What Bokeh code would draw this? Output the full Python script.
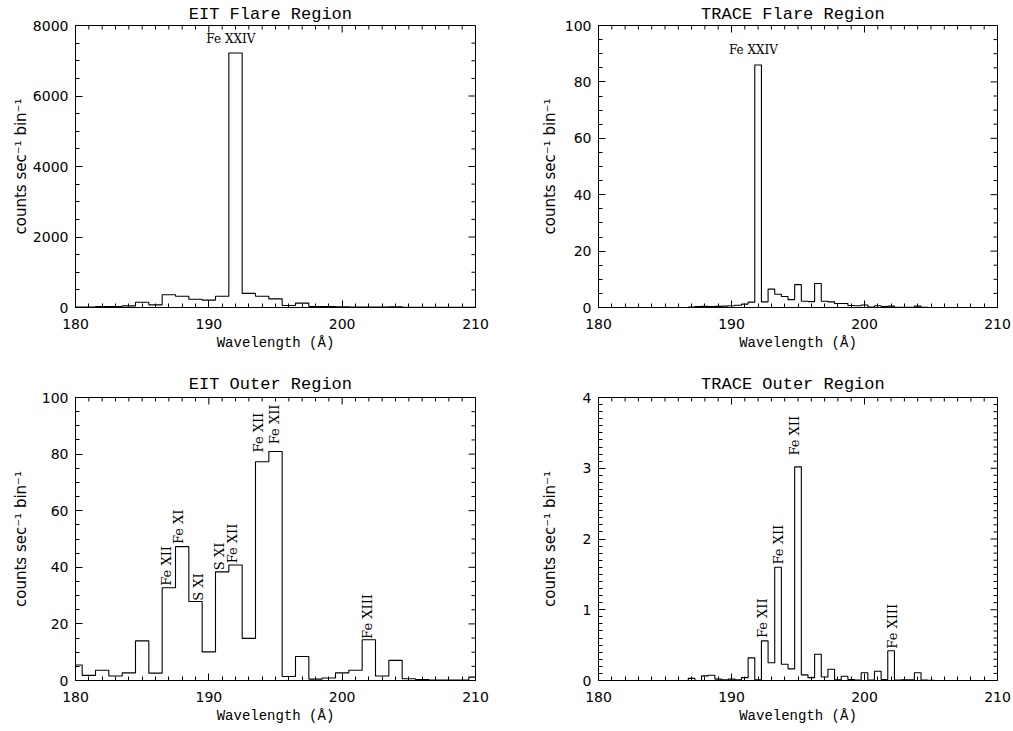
import numpy as np
from bokeh.plotting import figure
from bokeh.models import FixedTicker, Range1d
from bokeh.layouts import column, row
from bokeh.embed import file_html
from bokeh.resources import INLINE
from bokeh.core.properties import value

# ---------------- data ----------------
eit_wavelength = [180, 181, 182, 183, 184, 185, 186, 187, 188, 189, 190,
                  191, 192, 193, 194, 195, 196, 197, 198, 199, 200,
                  201, 202, 203, 204, 205, 206, 207, 208, 209, 210]
eit_flare_counts = [10, 10, 30, 30, 45, 150, 75, 360, 320, 235, 210,
                    320, 7220, 400, 320, 245, 55, 125, 30, 25, 20,
                    15, 10, 10, 20, 5, 5, 5, 5, 5, 5]
eit_outer_counts = [5.5, 1.8, 3.6, 1.6, 2.7, 14.0, 2.6, 32.8, 47.3, 27.9, 10.1,
                    38.4, 40.8, 14.9, 77.3, 80.9, 1.4, 8.5, 0.5, 0.9, 2.7,
                    3.6, 14.4, 1.6, 7.1, 0.6, 0.35, 0.2, 0.2, 0.2, 1.2]

trace_wavelength = [180.0, 180.5, 181.0, 181.5, 182.0, 182.5, 183.0, 183.5, 184.0, 184.5,
                    185.0, 185.5, 186.0, 186.5, 187.0, 187.5, 188.0, 188.5, 189.0, 189.5,
                    190.0, 190.5, 191.0, 191.5, 192.0, 192.5, 193.0, 193.5, 194.0, 194.5,
                    195.0, 195.5, 196.0, 196.5, 197.0, 197.5, 198.0, 198.5, 199.0, 199.5,
                    200.0, 200.5, 201.0, 201.5, 202.0, 202.5, 203.0, 203.5, 204.0, 204.5,
                    205.0, 205.5, 206.0, 206.5, 207.0, 207.5, 208.0, 208.5, 209.0, 209.5,
                    210.0]
trace_flare_counts = [0, 0, 0, 0, 0, 0, 0, 0, 0, 0,
                      0, 0, 0, 0, 0.2, 0.3, 0.4, 0.3, 0.4, 0.5,
                      0.6, 0.8, 1.2, 1.9, 86.0, 2.0, 6.5, 4.7, 3.9, 2.8,
                      8.1, 2.2, 2.1, 8.5, 2.2, 2.0, 1.4, 1.4, 0.7, 0.6,
                      0.9, 0.2, 0.6, 0.35, 0.5, 0.1, 0.1, 0.1, 0.5, 0.1,
                      0, 0, 0, 0, 0, 0, 0, 0, 0, 0,
                      0]
trace_outer_counts = [0, 0, 0, 0, 0, 0, 0, 0, 0, 0,
                      0, 0, 0, 0, 0.03, 0.0, 0.065, 0.075, 0.02, 0.01,
                      0.02, 0.01, 0.04, 0.32, 0.01, 0.56, 0.25, 1.60, 0.23, 0.165,
                      3.02, 0.08, 0.04, 0.37, 0.05, 0.16, 0.01, 0.06, 0.015, 0.005,
                      0.11, 0.005, 0.13, 0.015, 0.42, 0.005, 0.01, 0.01, 0.11, 0.005,
                      0.003, 0, 0, 0, 0, 0, 0, 0, 0, 0,
                      0]

x_major_ticks = [180, 190, 200, 210]
x_minor_ticks = [181, 182, 183, 184, 185, 186, 187, 188, 189,
                 191, 192, 193, 194, 195, 196, 197, 198, 199,
                 201, 202, 203, 204, 205, 206, 207, 208, 209]

eit_flare_label_text = ["Fe XXIV"]
eit_flare_label_x = [191.65]
eit_flare_label_y = [7430]

trace_flare_label_text = ["Fe XXIV"]
trace_flare_label_x = [191.65]
trace_flare_label_y = [89]

eit_outer_label_text = ["Fe XII", "Fe XI", "S XI", "S XI", "Fe XII", "Fe XII", "Fe XII", "Fe XIII"]
eit_outer_label_x = [186.8, 187.7, 189.2, 190.8, 191.8, 193.7, 194.9, 201.9]
eit_outer_label_y = [33.5, 48.2, 28.2, 39.0, 41.4, 80.6, 83.5, 14.7]

trace_outer_label_text = ["Fe XII", "Fe XII", "Fe XII", "Fe XIII"]
trace_outer_label_x = [192.3, 193.56, 194.7, 202.08]
trace_outer_label_y = [0.60, 1.64, 3.18, 0.45]

# ---------------- styling ----------------
TITLE_FONT = "Liberation Mono"
XLABEL_FONT = "Liberation Mono"
TICK_FONT = "DejaVu Sans"
ANNOT_FONT = "DejaVu Serif"
MAJ_LEN = 7
MIN_LEN = 4
X0, X1 = 180, 210


def style_axis(ax):
    ax.major_tick_in = MAJ_LEN
    ax.major_tick_out = 0
    ax.minor_tick_in = MIN_LEN
    ax.minor_tick_out = 0
    ax.axis_line_color = "black"
    ax.major_tick_line_color = "black"
    ax.minor_tick_line_color = "black"
    ax.major_label_text_font = TICK_FONT
    ax.major_label_text_font_size = "14px"
    ax.major_label_text_color = "black"


def make_panel(title, xs, ys, ymax, y_major, y_minor, lab_text, lab_x, lab_y,
               rotated, width, height, borders, ylabel_standoff, title_standoff):
    left, right, top, bottom = borders
    frame_w = width - left - right
    frame_h = height - top - bottom
    p = figure(width=width, height=height, output_backend="svg", toolbar_location=None,
               x_range=Range1d(X0, X1), y_range=Range1d(0, ymax),
               min_border_left=left, min_border_right=right,
               min_border_top=top, min_border_bottom=bottom)
    p.title.text = title
    p.title.align = "center"
    p.title.text_font = TITLE_FONT
    p.title.text_font_size = "17px"
    p.title.text_font_style = "normal"
    p.title.text_color = "black"
    p.title.standoff = title_standoff
    p.xgrid.visible = False
    p.ygrid.visible = False
    p.outline_line_color = "black"
    p.outline_line_width = 1
    p.background_fill_color = "white"
    p.border_fill_color = "white"

    p.xaxis.ticker = FixedTicker(ticks=x_major_ticks, minor_ticks=x_minor_ticks)
    p.yaxis.ticker = FixedTicker(ticks=y_major, minor_ticks=y_minor)
    for ax in p.xaxis:
        style_axis(ax)
        ax.major_label_standoff = 11
        ax.axis_label = "Wavelength (Å)"
        ax.axis_label_text_font = XLABEL_FONT
        ax.axis_label_text_font_size = "14px"
        ax.axis_label_text_font_style = "normal"
        ax.axis_label_text_color = "black"
        ax.axis_label_standoff = 3
    for ax in p.yaxis:
        style_axis(ax)
        ax.major_label_standoff = 7
        ax.axis_label = "counts sec⁻¹ bin⁻¹"
        ax.axis_label_text_font = TICK_FONT
        ax.axis_label_text_font_size = "15px"
        ax.axis_label_text_font_style = "normal"
        ax.axis_label_text_color = "black"
        ax.axis_label_standoff = ylabel_standoff

    # inward ticks on the top and right edges of the box (IDL style)
    dy_maj = MAJ_LEN * ymax / frame_h
    dy_min = MIN_LEN * ymax / frame_h
    dx_maj = MAJ_LEN * (X1 - X0) / frame_w
    dx_min = MIN_LEN * (X1 - X0) / frame_w
    p.segment(x0=x_major_ticks, y0=[ymax] * len(x_major_ticks),
              x1=x_major_ticks, y1=[ymax - dy_maj] * len(x_major_ticks),
              line_color="black", line_width=1)
    p.segment(x0=x_minor_ticks, y0=[ymax] * len(x_minor_ticks),
              x1=x_minor_ticks, y1=[ymax - dy_min] * len(x_minor_ticks),
              line_color="black", line_width=1)
    p.segment(x0=[X1] * len(y_major), y0=y_major,
              x1=[X1 - dx_maj] * len(y_major), y1=y_major,
              line_color="black", line_width=1)
    p.segment(x0=[X1] * len(y_minor), y0=y_minor,
              x1=[X1 - dx_min] * len(y_minor), y1=y_minor,
              line_color="black", line_width=1)

    p.step(xs, ys, mode="center", line_color="black", line_width=1.1)

    if rotated:
        p.text(x=lab_x, y=lab_y, text=lab_text, angle=np.pi / 2,
               text_align="left", text_baseline="middle",
               text_font=value(ANNOT_FONT), text_font_size="13px", text_color="black")
    else:
        p.text(x=lab_x, y=lab_y, text=lab_text,
               text_align="center", text_baseline="bottom",
               text_font=value(ANNOT_FONT), text_font_size="12px", text_color="black")
    return p


eit_flare_major = [0, 2000, 4000, 6000, 8000]
eit_flare_minor = [v for v in range(0, 8001, 500) if v % 2000]
pct_major = [0, 20, 40, 60, 80, 100]
pct_minor = [v for v in range(0, 101, 5) if v % 20]
trace_outer_major = [0, 1, 2, 3, 4]
trace_outer_minor = [k / 10 for k in range(0, 41) if k % 10]

p1 = make_panel("EIT  Flare Region", eit_wavelength, eit_flare_counts, 8000,
                eit_flare_major, eit_flare_minor,
                eit_flare_label_text, eit_flare_label_x, eit_flare_label_y, False,
                523, 356, (75, 48, 25, 49), 0, 4)
p2 = make_panel("TRACE  Flare Region", trace_wavelength, trace_flare_counts, 100,
                pct_major, pct_minor,
                trace_flare_label_text, trace_flare_label_x, trace_flare_label_y, False,
                490, 356, (75, 16, 25, 49), 3, 4)
p3 = make_panel("EIT  Outer Region", eit_wavelength, eit_outer_counts, 100,
                pct_major, pct_minor,
                eit_outer_label_text, eit_outer_label_x, eit_outer_label_y, True,
                523, 375, (75, 48, 41, 51), 9, 7)
p4 = make_panel("TRACE  Outer Region", trace_wavelength, trace_outer_counts, 4,
                trace_outer_major, trace_outer_minor,
                trace_outer_label_text, trace_outer_label_x, trace_outer_label_y, True,
                490, 375, (75, 16, 41, 51), 21, 7)

layout = column(row(p1, p2), row(p3, p4))
open("out.html", "w").write(file_html(layout, INLINE))
